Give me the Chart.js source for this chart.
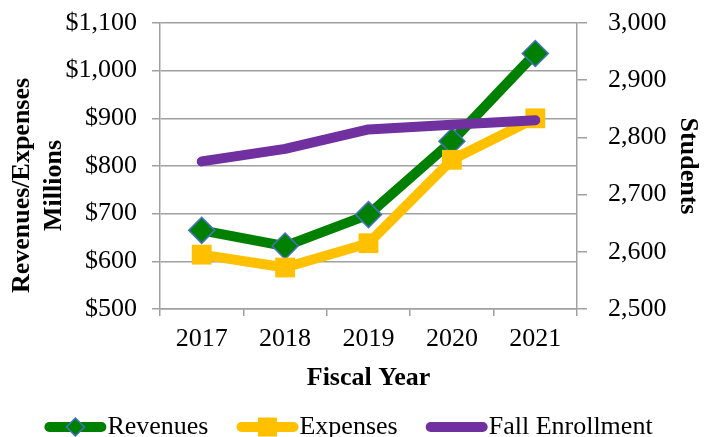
<!DOCTYPE html>
<html>
<head>
<meta charset="utf-8">
<script src="https://cdn.jsdelivr.net/npm/chart.js@4"></script>
<style>
    body { margin: 0; background: #FFFFFF; }
</style>
</head>
<body>
<canvas id="chartRevenues" width="711" height="437"></canvas>
<script>
const fiscalYears = ["2017", "2018", "2019", "2020", "2021"];
const revenues = [665, 632, 698, 852, 1036];
const expenses = [614, 587, 638, 813, 900];
const fallEnrollment = [2758, 2780, 2814, 2822, 2830];

const serif = "'Liberation Serif', 'Times New Roman', serif";
const gridColor = "#A0A0A0";
// espaços no fim para descer o título da esquerda, como no original
const titlePad = "      ";

// legenda no estilo do Excel: linha + marcador + texto
const lineLegend = {
    id: "lineLegend",
    afterDraw(chart) {
        const ctx = chart.ctx;
        const y = 427;
        const lineLen = 62;
        const gap = 1;
        const spacing = 28;
        ctx.save();
        ctx.font = "26px " + serif;
        const datasets = chart.data.datasets;
        let total = 0;
        datasets.forEach((ds, i) => {
            total += lineLen + gap + ctx.measureText(ds.label).width + (i ? spacing : 0);
        });
        let x = (chart.width - total) / 2 - 7;
        datasets.forEach((ds) => {
            ctx.strokeStyle = ds.borderColor;
            ctx.lineWidth = ds.borderWidth;
            ctx.lineCap = "round";
            ctx.beginPath();
            ctx.moveTo(x + 5, y);
            ctx.lineTo(x + lineLen - 5, y);
            ctx.stroke();
            const cx = x + lineLen / 2;
            if (ds.pointStyle === "rectRot") {
                ctx.beginPath();
                ctx.moveTo(cx, y - 9);
                ctx.lineTo(cx + 9, y);
                ctx.lineTo(cx, y + 9);
                ctx.lineTo(cx - 9, y);
                ctx.closePath();
                ctx.fillStyle = ds.pointBackgroundColor;
                ctx.fill();
                ctx.strokeStyle = ds.pointBorderColor;
                ctx.lineWidth = 1.5;
                ctx.stroke();
            } else if (ds.pointStyle === "rect") {
                ctx.fillStyle = ds.pointBackgroundColor;
                ctx.fillRect(cx - 9.5, y - 9.5, 19, 19);
            }
            ctx.fillStyle = "#000000";
            ctx.textBaseline = "middle";
            ctx.textAlign = "left";
            ctx.fillText(ds.label, x + lineLen + gap, y);
            x += lineLen + gap + ctx.measureText(ds.label).width + spacing;
        });
        ctx.restore();
    }
};

const canvas = document.getElementById("chartRevenues");

new Chart(canvas, {
    type: "line",
    data: {
        labels: fiscalYears,
        datasets: [
            {
                label: "Revenues",
                data: revenues,
                yAxisID: "y",
                borderColor: "#008000",
                borderWidth: 10,
                pointStyle: "rectRot",
                pointRadius: 13,
                pointBackgroundColor: "#008000",
                pointBorderColor: "#4472C4",
                pointBorderWidth: 1.5,
                order: 3
            },
            {
                label: "Expenses",
                data: expenses,
                yAxisID: "y",
                borderColor: "#FFC000",
                borderWidth: 10,
                pointStyle: "rect",
                pointRadius: 14,
                pointBackgroundColor: "#FFC000",
                pointBorderColor: "#FFC000",
                pointBorderWidth: 0,
                order: 2
            },
            {
                label: "Fall Enrollment",
                data: fallEnrollment,
                yAxisID: "y1",
                borderColor: "#7030A0",
                borderWidth: 10,
                pointRadius: 0,
                order: 1
            }
        ]
    },
    options: {
        responsive: false,
        animation: false,
        layout: {
            padding: { top: 23, left: 0, right: 0, bottom: 28 }
        },
        elements: {
            line: {
                tension: 0,
                borderCapStyle: "round",
                borderJoinStyle: "round"
            },
            point: { hoverRadius: 13 }
        },
        plugins: {
            legend: { display: false },
            tooltip: { enabled: false }
        },
        scales: {
            x: {
                offset: true,
                afterFit(scale) { scale.height = 100; },
                grid: {
                    offset: true,
                    drawOnChartArea: false,
                    tickLength: 7,
                    color: gridColor,
                    lineWidth: 1.5
                },
                border: { color: gridColor, width: 1.5 },
                ticks: {
                    color: "#000000",
                    font: { family: serif, size: 26 },
                    padding: 8,
                    maxRotation: 0
                },
                title: {
                    display: true,
                    text: "Fiscal Year",
                    color: "#000000",
                    font: { family: serif, size: 26, weight: "bold" },
                    padding: { top: 0, bottom: 15 }
                }
            },
            y: {
                position: "left",
                min: 500,
                max: 1100,
                afterFit(scale) {
                    scale.width = 160;
                    scale.paddingTop = 0;
                    scale.paddingBottom = 0;
                },
                grid: {
                    color: gridColor,
                    lineWidth: 1.5,
                    tickLength: 8
                },
                border: { color: gridColor, width: 1.5 },
                ticks: {
                    stepSize: 100,
                    color: "#000000",
                    font: { family: serif, size: 26 },
                    padding: 15,
                    callback: (v) => "$" + v.toLocaleString("en-US")
                },
                title: {
                    display: true,
                    text: ["Revenues/Expenses" + titlePad, "Millions" + titlePad],
                    color: "#000000",
                    font: { family: serif, size: 26, weight: "bold" },
                    padding: { top: 7, bottom: 0 }
                }
            },
            y1: {
                position: "right",
                min: 2500,
                max: 3000,
                afterFit(scale) {
                    scale.width = 134;
                    scale.paddingTop = 0;
                    scale.paddingBottom = 0;
                },
                grid: {
                    drawOnChartArea: false,
                    color: gridColor,
                    lineWidth: 1.5,
                    tickLength: 10
                },
                border: { color: gridColor, width: 1.5 },
                ticks: {
                    stepSize: 100,
                    color: "#000000",
                    font: { family: serif, size: 26 },
                    padding: 21,
                    callback: (v) => v.toLocaleString("en-US")
                },
                title: {
                    display: true,
                    text: "Students",
                    color: "#000000",
                    font: { family: serif, size: 26, weight: "bold" },
                    padding: { top: 8, bottom: 0 }
                }
            }
        }
    },
    plugins: [lineLegend]
});
</script>
</body>
</html>
